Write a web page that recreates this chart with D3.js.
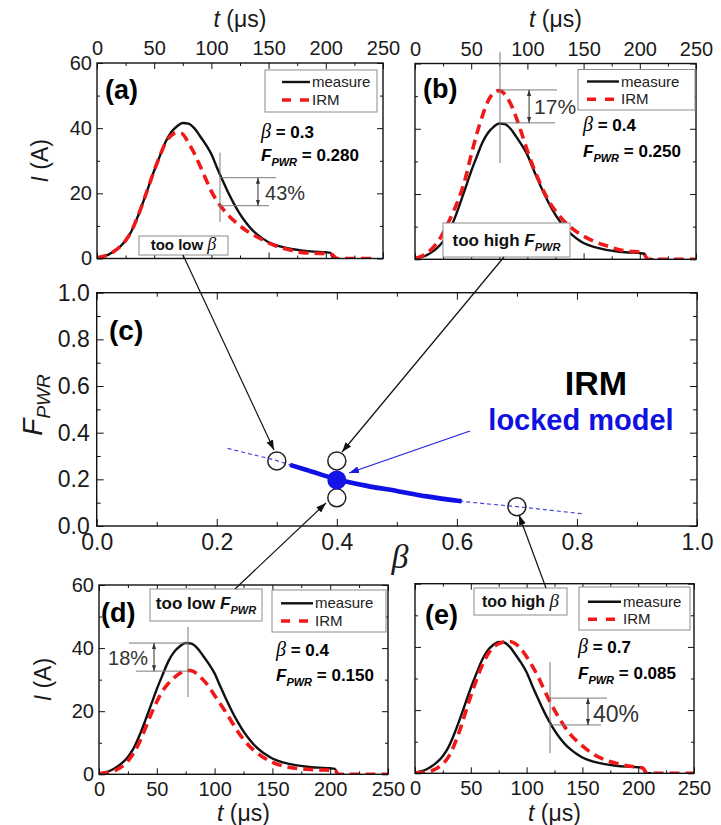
<!DOCTYPE html>
<html>
<head>
<meta charset="utf-8">
<script src="https://cdn.jsdelivr.net/npm/d3@7"></script>
<style>
  body { margin: 0; background: #fff; }
  svg { font-family: "Liberation Sans", Arial, sans-serif; }
</style>
</head>
<body>
<svg id="fig" width="721" height="825"></svg>
<script>
// ---- data ----
// measured current pulse (same in every panel)
const tMeasure = [0,5,10,15,20,25,30,35,40,45,50,55,60,65,70,75,80,85,90,95,100,105,110,115,120,125,130,135,140,145,150,160,170,180,190,200,204,207,212];
const iMeasure = [0.3,0.6,1.2,2.2,3.6,5.5,8.3,12.3,17.0,22.0,27.0,31.5,35.8,38.8,40.6,41.6,41.4,40.0,37.6,35.0,32.0,27.8,23.8,20.0,16.6,13.6,11.1,9.0,7.4,6.1,5.0,3.7,2.9,2.4,2.1,1.9,1.7,0,0];

// IRM curves
const tIrmA = [0,5,10,15,20,25,30,35,40,45,50,55,60,65,70,74,80,85,90,95,100,105,110,115,120,130,140,150,160,170,180,190,200,205,210,240];
const iIrmA = [0.3,0.6,1.2,2.2,3.6,5.5,8.3,12.3,17.0,22.0,27.0,31.5,35.6,37.8,38.6,38.4,35.5,32.3,28.5,24.5,20.6,17.6,15.2,13.2,11.5,8.7,6.6,4.8,3.4,2.5,1.8,1.6,1.5,1.3,0,0];
const tIrmB = [0,5,10,15,20,25,30,35,40,45,50,55,60,65,70,75,80,85,90,95,100,105,110,115,120,125,130,135,140,150,160,170,180,190,200,203,207,250];
const iIrmB = [0.3,0.8,1.8,3.2,5.2,8.0,11.5,15.3,19.5,25.0,32.0,38.5,44.0,48.5,51.0,51.7,50.5,47.7,43.5,38.5,33.2,28.5,24.3,20.5,17.3,14.8,12.7,10.9,9.4,7.1,5.4,4.2,3.1,2.5,2.2,2.0,0,0];
const tIrmD = [0,5,10,15,20,25,30,35,40,45,50,55,60,65,70,75,80,85,90,95,100,105,110,115,120,125,130,135,140,150,160,170,180,190,200,204,207,250];
const iIrmD = [0.2,0.4,0.8,1.4,2.5,4.2,6.8,10.2,14.5,19.0,23.0,26.4,28.8,30.6,32.0,33.0,32.8,31.8,30.0,27.8,25.0,22.3,19.5,16.5,13.6,11.1,9.0,7.3,5.9,3.8,2.6,1.9,1.6,1.4,1.3,1.2,0,0];
const tIrmE = [0,5,10,15,20,25,30,35,40,45,50,55,60,65,70,75,80,85,90,95,100,105,110,115,120,125,130,135,140,150,160,170,180,190,200,204,208,250];
const iIrmE = [0.1,0.2,0.4,0.8,1.7,3.0,5.2,8.8,13.5,19.0,24.5,29.5,34.0,37.5,39.8,41.0,41.6,41.7,41.0,39.3,36.9,34.0,30.8,27.0,23.3,20.0,17.0,14.3,12.0,8.7,6.0,4.3,3.2,2.4,1.9,1.7,0,0];

// panel (c): locked-model curve and the tested parameter pairs
const betaCurve = [0.218,0.25,0.30,0.322,0.35,0.40,0.45,0.50,0.55,0.608,0.65,0.70,0.75,0.81];
const fCurve    = [0.333,0.312,0.280,0.262,0.240,0.200,0.172,0.150,0.127,0.106,0.095,0.083,0.069,0.052];
const lockedRange = [0.322, 0.608];
const circleBeta = [0.3, 0.4, 0.4, 0.7];
const circleF    = [0.279, 0.279, 0.121, 0.083];
const lockedBeta = 0.4, lockedF = 0.197;

// ticks
const tMajor = [0,50,100,150,200,250];
const tMinor = [25,75,125,175,225];
const iMajor = [0,20,40,60];
const iMinor = [10,30,50];
const cMajor = [0,0.2,0.4,0.6,0.8,1.0];
const cMinor = [0.1,0.3,0.5,0.7,0.9];

// per-panel labels
const panelLabel = ['(a)','(b)','(d)','(e)'];
const panelBeta  = ['0.3','0.4','0.4','0.7'];
const panelF     = ['0.280','0.250','0.150','0.085'];
const diffLabel  = ['43%','17%','18%','40%'];

// ---- drawing ----
const svg = d3.select('#fig');
const defs = svg.append('defs');
function marker(id, color, size) {
  defs.append('marker').attr('id', id).attr('viewBox', '0 0 10 10')
    .attr('refX', 10).attr('refY', 5)
    .attr('markerWidth', size).attr('markerHeight', size)
    .attr('markerUnits', 'userSpaceOnUse').attr('orient', 'auto-start-reverse')
    .append('path').attr('d', 'M0,1.5L10,5L0,8.5Z').attr('fill', color);
}
marker('arrK', '#111', 10);
marker('arrB', '#1a1ae0', 10);
marker('arrG', '#333', 6);

function styleAxis(a, fs) {
  a.select('.domain').remove();
  a.attr('font-family', null).attr('font-size', fs);
  a.selectAll('line').attr('stroke', '#111');
  a.selectAll('text').attr('fill', '#1a1a1a');
}

function ticks(g, x, y, xMaj, xMin, yMaj, yMin, o) {
  const [bx, tx] = [y.range()[0], y.range()[1]];
  const [lx, rx] = x.range();
  const none = () => '';
  const mk = (axisFn, scale, vals, size, fmt, pad, tr) =>
    g.append('g').attr('transform', tr)
      .call(axisFn(scale).tickValues(vals).tickSize(-size).tickPadding(pad).tickFormat(fmt))
      .call(a => styleAxis(a, o.fs));
  mk(d3.axisBottom, x, xMaj, o.maj, o.xSide === 'bottom' ? o.xFmt : none, o.xPad, `translate(0,${bx})`);
  mk(d3.axisBottom, x, xMin, o.min, none, 0, `translate(0,${bx})`);
  mk(d3.axisTop, x, xMaj, o.maj, o.xSide === 'top' ? o.xFmt : none, o.xPad, `translate(0,${tx})`);
  mk(d3.axisTop, x, xMin, o.min, none, 0, `translate(0,${tx})`);
  mk(d3.axisLeft, y, yMaj, o.maj, o.showY ? o.yFmt : none, o.yPad, `translate(${lx},0)`);
  mk(d3.axisLeft, y, yMin, o.min, none, 0, `translate(${lx},0)`);
  mk(d3.axisRight, y, yMaj, o.maj, none, 0, `translate(${rx},0)`);
  mk(d3.axisRight, y, yMin, o.min, none, 0, `translate(${rx},0)`);
  g.append('rect').attr('x', lx).attr('y', tx).attr('width', rx - lx).attr('height', bx - tx)
    .attr('fill', 'none').attr('stroke', '#111').attr('stroke-width', 1.4);
}

// text helpers
function fpwr(text, fs, sub, suffix) {
  text.append('tspan').attr('font-style', 'italic').text('F');
  text.append('tspan').attr('font-style', 'italic').attr('font-size', sub).attr('dy', fs * 0.3).text('PWR');
  if (suffix) text.append('tspan').attr('dy', -fs * 0.3).text(suffix);
}
function betaText(text, fs, suffix) {
  text.append('tspan').attr('font-family', '"Liberation Serif", serif').attr('font-style', 'italic')
    .attr('font-weight', 'normal').attr('font-size', fs + 3).text('β');
  if (suffix) text.append('tspan').text(suffix);
}

// layout of the four current panels
const layouts = [
  { key: 'a', x0: 97, x1: 383, y0: 63, y1: 258.5, xSide: 'top', showY: true,
    tIrm: tIrmA, iIrm: iIrmA,
    leg: [265, 70, 112, 42, 282, 310, 312, 82, 100],
    lab: [105, 99], par: [261, 138, 161],
    call: { box: [139, 236, 89, 19], tx: 183.5, ty: 250, fs: 15, kind: 'beta', text: 'too low ' },
    ann: { vx: 107.5, vy: [32.5, 11.2], h1: [24.8, 156.5], h2: [16.2, 150.3], ax: 140.7, lt: 146.9, li: 18, fs: 20, h1s: 107.5, h2s: 107.5 } },
  { key: 'b', x0: 415, x1: 696, y0: 63.5, y1: 259.3, xSide: 'top', showY: false,
    tIrm: tIrmB, iIrm: iIrmB,
    leg: [578, 69.5, 117, 40.5, 587, 619, 621, 81.5, 99.3],
    lab: [423, 98], par: [583, 131, 157],
    call: { box: [443, 223, 127, 34], tx: 506.5, ty: 246, fs: 17, kind: 'f', text: 'too high ' },
    ann: { vx: 75.6, vy: [63.6, 29.5], h1: [51.9, 126.3], h2: [41.8, 124.6], ax: 101.5, lt: 105.9, li: 44.6, fs: 21, h1s: 75.6, h2s: 75.6 } },
  { key: 'd', x0: 99, x1: 388, y0: 585, y1: 774.3, xSide: 'bottom', showY: true,
    tIrm: tIrmD, iIrm: iIrmD,
    leg: [272, 590, 114, 42, 281, 313, 315, 603.3, 621],
    lab: [101, 622], par: [276, 656, 681],
    call: { box: [150, 589, 112, 32], tx: 206, ty: 609, fs: 17, kind: 'f', text: 'too low ' },
    ann: { vx: 77, vy: [46.7, 24.5], h1: [41.6, 77], h2: [32.7, 77], ax: 47.6, lt: 7.8, li: 34.6, fs: 20, h1s: 26, h2s: 32 } },
  { key: 'e', x0: 415, x1: 694, y0: 583.7, y1: 773.3, xSide: 'bottom', showY: false,
    tIrm: tIrmE, iIrm: iIrmE,
    leg: [579, 587, 111, 43, 588, 621, 623, 601.7, 619.3],
    lab: [425, 624], par: [578, 653, 679],
    call: { box: [474, 588, 93, 27], tx: 520.5, ty: 607, fs: 16, kind: 'beta', text: 'too high ' },
    ann: { vx: 121, vy: [35.2, 6.4], h1: [23.8, 172], h2: [15.3, 166.7], ax: 155, lt: 159.5, li: 16.2, fs: 23, h1s: 121, h2s: 121 } }
];

layouts.forEach((p, k) => {
  const x = d3.scaleLinear().domain([0, 250]).range([p.x0, p.x1]);
  const y = d3.scaleLinear().domain([0, 60]).range([p.y1, p.y0]);
  const g = svg.append('g');
  defs.append('clipPath').attr('id', 'clip' + p.key).append('rect')
    .attr('x', p.x0).attr('y', p.y0).attr('width', p.x1 - p.x0).attr('height', p.y1 - p.y0);

  const line = d3.line().x(d => x(d[0])).y(d => y(d[1])).curve(d3.curveMonotoneX);
  g.append('path').datum(d3.zip(tMeasure, iMeasure)).attr('d', line)
    .attr('fill', 'none').attr('stroke', '#111').attr('stroke-width', 2.4)
    .attr('clip-path', `url(#clip${p.key})`);
  g.append('path').datum(d3.zip(p.tIrm, p.iIrm)).attr('d', line)
    .attr('fill', 'none').attr('stroke', '#f01818').attr('stroke-width', 3.6)
    .attr('stroke-dasharray', '10,6').attr('clip-path', `url(#clip${p.key})`);

  ticks(g, x, y, tMajor, tMinor, iMajor, iMinor, {
    fs: 20, maj: 6, min: 3, xSide: p.xSide, showY: p.showY,
    xFmt: d3.format('d'), yFmt: d3.format('d'),
    xPad: p.xSide === 'top' ? 8 : 8, yPad: 5
  });

  // axis titles
  const midX = (p.x0 + p.x1) / 2;
  const tt = g.append('text').attr('x', midX).attr('text-anchor', 'middle').attr('font-size', 23).attr('fill', '#1a1a1a')
    .attr('y', p.xSide === 'top' ? 27 : 821);
  tt.append('tspan').attr('font-style', 'italic').text('t');
  tt.append('tspan').text(' (μs)');
  if (p.showY) {
    const yl = g.append('text').attr('text-anchor', 'middle').attr('font-size', 23).attr('fill', '#1a1a1a')
      .attr('transform', `translate(${p.key === 'a' ? 48 : 51},${(p.y0 + p.y1) / 2}) rotate(-90)`);
    yl.append('tspan').attr('font-style', 'italic').text('I');
    yl.append('tspan').text(' (A)');
  }

  // panel letter
  g.append('text').attr('x', p.lab[0]).attr('y', p.lab[1]).attr('font-size', 27).attr('font-weight', 'bold')
    .text(panelLabel[k]);

  // legend
  const L = p.leg;
  g.append('rect').attr('x', L[0]).attr('y', L[1]).attr('width', L[2]).attr('height', L[3])
    .attr('fill', '#fff').attr('stroke', '#8c8c8c').attr('stroke-width', 1);
  g.append('line').attr('x1', L[4]).attr('x2', L[5]).attr('y1', L[7]).attr('y2', L[7])
    .attr('stroke', '#111').attr('stroke-width', 2.4);
  g.append('line').attr('x1', L[4]).attr('x2', L[5]).attr('y1', L[8]).attr('y2', L[8])
    .attr('stroke', '#f01818').attr('stroke-width', 3.6).attr('stroke-dasharray', '9,9');
  g.append('text').attr('x', L[6]).attr('y', L[7] + 5).attr('font-size', 15).attr('fill', '#222').text('measure');
  g.append('text').attr('x', L[6]).attr('y', L[8] + 5).attr('font-size', 15).attr('fill', '#222').text('IRM');

  // parameter values
  const b = g.append('text').attr('x', p.par[0]).attr('y', p.par[1]).attr('font-size', 17).attr('font-weight', 'bold');
  betaText(b, 17, ' = ' + panelBeta[k]);
  const f = g.append('text').attr('x', p.par[0]).attr('y', p.par[2]).attr('font-size', 17).attr('font-weight', 'bold');
  fpwr(f, 17, 11, ' = ' + panelF[k]);

  // percentage annotation
  const a = p.ann;
  const gr = g.append('g').attr('stroke', '#7a7a7a').attr('stroke-width', 1);
  gr.append('line').attr('x1', x(a.vx)).attr('x2', x(a.vx)).attr('y1', y(a.vy[0])).attr('y2', y(a.vy[1]));
  gr.append('line').attr('x1', x(a.h1s)).attr('x2', x(a.h1[1])).attr('y1', y(a.h1[0])).attr('y2', y(a.h1[0]));
  gr.append('line').attr('x1', x(a.h2s)).attr('x2', x(a.h2[1])).attr('y1', y(a.h2[0])).attr('y2', y(a.h2[0]));
  g.append('line').attr('x1', x(a.ax)).attr('x2', x(a.ax)).attr('y1', y(a.h1[0])).attr('y2', y(a.h2[0]))
    .attr('stroke', '#333').attr('stroke-width', 1)
    .attr('marker-start', 'url(#arrG)').attr('marker-end', 'url(#arrG)');
  g.append('text').attr('x', x(a.lt)).attr('y', y(a.li)).attr('font-size', a.fs).attr('fill', '#333')
    .text(diffLabel[k]);

  // callout box
  const c = p.call;
  g.append('rect').attr('x', c.box[0]).attr('y', c.box[1]).attr('width', c.box[2]).attr('height', c.box[3])
    .attr('fill', '#fff').attr('stroke', '#8c8c8c').attr('stroke-width', 1);
  const ct = g.append('text').attr('x', c.tx).attr('y', c.ty).attr('text-anchor', 'middle')
    .attr('font-size', c.fs).attr('font-weight', 'bold').attr('fill', '#111');
  ct.append('tspan').text(c.text);
  if (c.kind === 'beta') betaText(ct, c.fs, null);
  else fpwr(ct, c.fs, 11, null);
});

// ---- panel (c) ----
{
  const x = d3.scaleLinear().domain([0, 1]).range([96.7, 697]);
  const y = d3.scaleLinear().domain([0, 1]).range([526, 292.7]);
  const g = svg.append('g');
  ticks(g, x, y, cMajor, cMinor, cMajor, cMinor, {
    fs: 23, maj: 7, min: 4, xSide: 'bottom', showY: true,
    xFmt: d3.format('.1f'), yFmt: d3.format('.1f'), xPad: 8, yPad: 7
  });
  const pts = d3.zip(betaCurve, fCurve);
  const line = d3.line().x(d => x(d[0])).y(d => y(d[1])).curve(d3.curveMonotoneX);
  g.append('path').datum(pts).attr('d', line).attr('fill', 'none')
    .attr('stroke', '#4646d8').attr('stroke-width', 1.2).attr('stroke-dasharray', '4,3');
  g.append('path').datum(pts.filter(d => d[0] >= lockedRange[0] && d[0] <= lockedRange[1])).attr('d', line)
    .attr('fill', 'none').attr('stroke', '#1010e6').attr('stroke-width', 4.6);
  g.selectAll('circle.tst').data(d3.zip(circleBeta, circleF)).join('circle').attr('class', 'tst')
    .attr('cx', d => x(d[0])).attr('cy', d => y(d[1])).attr('r', 9)
    .attr('fill', 'none').attr('stroke', '#222').attr('stroke-width', 1.5);
  g.append('circle').attr('cx', x(lockedBeta)).attr('cy', y(lockedF)).attr('r', 9.5).attr('fill', '#1414e8');

  g.append('text').attr('x', 109).attr('y', 340).attr('font-size', 28).attr('font-weight', 'bold').text('(c)');
  g.append('text').attr('x', 596).attr('y', 395).attr('text-anchor', 'middle')
    .attr('font-size', 34).attr('font-weight', 'bold').text('IRM');
  g.append('text').attr('x', 581).attr('y', 430).attr('text-anchor', 'middle')
    .attr('font-size', 29).attr('font-weight', 'bold').attr('fill', '#1010e0').text('locked model');
  g.append('line').attr('x1', 470).attr('y1', 431).attr('x2', 349).attr('y2', 473)
    .attr('stroke', '#2020e0').attr('stroke-width', 1.2).attr('marker-end', 'url(#arrB)');

  const yl = g.append('text').attr('text-anchor', 'middle').attr('font-size', 28).attr('fill', '#1a1a1a')
    .attr('transform', 'translate(42,405) rotate(-90)');
  fpwr(yl, 28, 19, null);
  g.append('text').attr('x', 400).attr('y', 568).attr('text-anchor', 'middle')
    .attr('font-family', '"Liberation Serif", serif').attr('font-style', 'italic')
    .attr('font-size', 34).attr('fill', '#1a1a1a').text('β');
}

// ---- connectors from callouts to the tested points ----
const connectors = [
  [183, 255, 274, 450],
  [504, 257, 342, 452],
  [235, 589, 326, 503],
  [546, 588, 519, 515]
];
svg.append('g').selectAll('line').data(connectors).join('line')
  .attr('x1', d => d[0]).attr('y1', d => d[1]).attr('x2', d => d[2]).attr('y2', d => d[3])
  .attr('stroke', '#111').attr('stroke-width', 1.2).attr('marker-end', 'url(#arrK)');
</script>
</body>
</html>
